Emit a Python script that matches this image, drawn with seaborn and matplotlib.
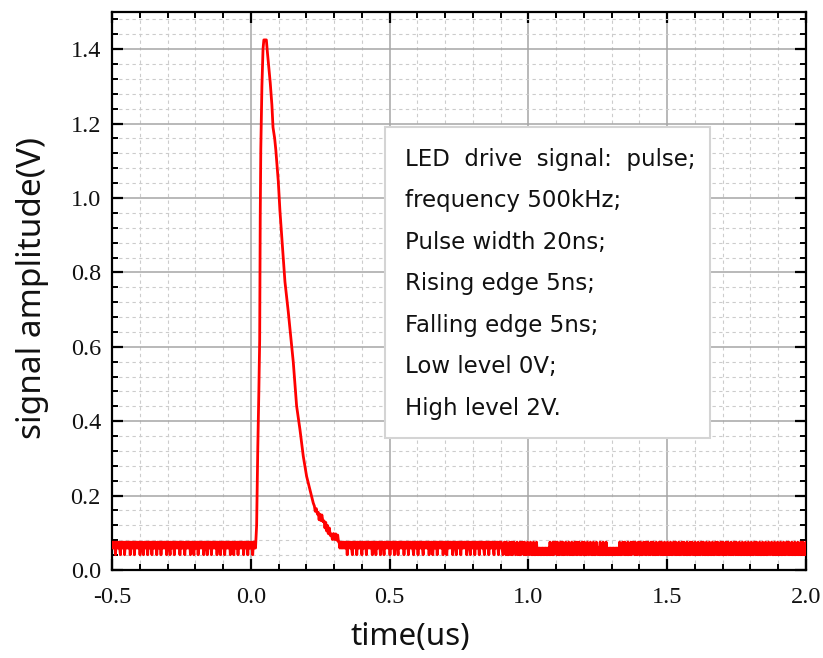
import numpy as np
import pandas as pd
import matplotlib
matplotlib.use("Agg")
import matplotlib.pyplot as plt
from matplotlib.ticker import MultipleLocator, FormatStrFormatter
from matplotlib.patches import Rectangle
import seaborn as sns

# ---------------- data ----------------
levels = {"0": 0.041, "1": 0.059, "2": 0.075}   # quantised baseline levels (V)

pre_pattern = (
    "2121202121210212120212121202121202121212021210212120212120212121021212021212120212102121202121"
    "2120212121021212120212102121202121212021210212120212121202121021212021212120212102121202121212"
    "021212021212102121")
post_pattern_a = (
    "2121212121202121210212120212121021212021212120212102121202121021212120212120212102121212021212"
    "0212121021212021212102121212021210212120212121202121021212120212102121202121212021210212120212"
    "12021212102121202121210212120212")
post_pattern_b = (
    "2101210201021020121012010201210201021012010201020101010101010101020102012102010210201021012010"
    "2010210201201021020102101201020102101020102010201010101010101010201021020102010201210201021020"
    "1021020120102102010201021020102010201020102102010201021020102010201201020102010210201020102010"
    "2010210201021020102012010201021020102010201020102010201021020102010201020102101201020102010201"
    "02010210201020102010201021020102")

pulse_t = [0.018, 0.021, 0.023, 0.025, 0.029, 0.032, 0.034, 0.036, 0.040, 0.044,
           0.047, 0.056, 0.060, 0.065, 0.070, 0.076, 0.080, 0.086, 0.090, 0.099,
           0.105, 0.111, 0.117, 0.123, 0.135, 0.141, 0.147, 0.153, 0.165, 0.177,
           0.189, 0.201, 0.213, 0.218, 0.222, 0.225, 0.229, 0.232, 0.236, 0.240,
           0.243, 0.246, 0.249, 0.252, 0.256, 0.260, 0.264, 0.267, 0.270, 0.273,
           0.276, 0.279, 0.283, 0.286, 0.290, 0.294, 0.298, 0.302, 0.306, 0.310,
           0.313, 0.316]
pulse_v = [0.075, 0.12, 0.22, 0.32, 0.48, 0.62, 0.95, 1.13, 1.30, 1.40,
           1.425, 1.425, 1.39, 1.35, 1.31, 1.25, 1.19, 1.16, 1.13, 1.045,
           0.965, 0.90, 0.838, 0.775, 0.694, 0.649, 0.604, 0.559, 0.441, 0.378,
           0.306, 0.252, 0.216, 0.200, 0.190, 0.180, 0.172, 0.158, 0.165, 0.150,
           0.155, 0.135, 0.150, 0.133, 0.148, 0.130, 0.132, 0.113, 0.128, 0.105,
           0.120, 0.098, 0.113, 0.093, 0.097, 0.082, 0.098, 0.082, 0.097, 0.080,
           0.094, 0.076]

pre_range = (-0.5, 0.017)
post_a_range = (0.318, 0.90)
post_b_range = (0.9025, 2.0)

x_ticks = [-0.5, 0.0, 0.5, 1.0, 1.5, 2.0]
y_ticks = [0.0, 0.2, 0.4, 0.6, 0.8, 1.0, 1.2, 1.4]

box_lines = ["LED  drive  signal:  pulse;", "frequency 500kHz;", "Pulse width 20ns;",
             "Rising edge 5ns;", "Falling edge 5ns;", "Low level 0V;", "High level 2V."]

# ---------------- build series ----------------
def seg(pattern, rng):
    t = np.linspace(rng[0], rng[1], len(pattern))
    v = [levels[c] for c in pattern]
    return list(t), v

t_pre, v_pre = seg(pre_pattern, pre_range)
t_pa, v_pa = seg(post_pattern_a, post_a_range)
t_pb, v_pb = seg(post_pattern_b, post_b_range)

df = pd.DataFrame({"time": t_pre + pulse_t + t_pa + t_pb,
                   "signal": v_pre + pulse_v + v_pa + v_pb})

# ---------------- plot ----------------
sns.set_style("white")
plt.rcParams["font.family"] = ["DejaVu Sans"]

fig = plt.figure(figsize=(8.23, 6.58), dpi=100)
ax = fig.add_axes([112/823, 88/658, 694/823, 558/658])

sns.lineplot(data=df, x="time", y="signal", ax=ax, color="#ff0000",
             linewidth=2.0, estimator=None, sort=False, zorder=4)

ax.set_xlim(-0.5, 2.0)
ax.set_ylim(0.0, 1.5)
ax.set_xticks(x_ticks)
ax.set_yticks(y_ticks)
ax.xaxis.set_minor_locator(MultipleLocator(0.1))
ax.yaxis.set_minor_locator(MultipleLocator(0.04))
ax.xaxis.set_major_formatter(FormatStrFormatter("%.1f"))
ax.yaxis.set_major_formatter(FormatStrFormatter("%.1f"))

ax.grid(which="major", color="#a6a6a6", linewidth=1.1, linestyle="-", zorder=0)
ax.grid(which="minor", color="#cccccc", linewidth=0.8, linestyle=(0, (3, 3)), zorder=0)
ax.set_axisbelow(True)

for sp in ax.spines.values():
    sp.set_visible(True)
    sp.set_linewidth(1.6)
    sp.set_color("black")

ax.tick_params(which="major", direction="in", length=8, width=1.6,
               top=True, right=True, bottom=True, left=True, color="black")
ax.tick_params(which="minor", direction="in", length=4, width=1.4,
               top=True, right=True, bottom=True, left=True, color="black")
ax.tick_params(axis="y", which="major", pad=8, labelcolor="#111111")
ax.tick_params(axis="x", which="major", pad=12, labelcolor="#111111")
for lab in ax.get_xticklabels() + ax.get_yticklabels():
    lab.set_family(["Liberation Serif", "DejaVu Serif"])
    lab.set_fontsize(17.5)

ax.set_xlabel("time(us)", fontsize=22.5, family=["Noto Sans", "DejaVu Sans"], color="#111111")
ax.set_ylabel("signal amplitude(V)", fontsize=24, family=["Noto Sans", "DejaVu Sans"],
              color="#111111")
ax.xaxis.label.set_va("center")
ax.yaxis.label.set_va("center")
ax.xaxis.set_label_coords((410-112)/694, (570-637)/558)
ax.yaxis.set_label_coords((33-112)/694, (570-288)/558)

# text box
bx0, bx1 = (385-112)/694, (710-112)/694
by0, by1 = (570-438)/558, (570-127)/558
ax.add_patch(Rectangle((bx0, by0), bx1-bx0, by1-by0, transform=ax.transAxes,
                       facecolor="white", edgecolor="#d4d4d4", linewidth=1.5, zorder=5))
for i, line in enumerate(box_lines):
    ybase = 570 - (157.7 + 8.0 + i*41.5)
    ax.text((405-112)/694, ybase/558, line, transform=ax.transAxes, fontsize=16.5,
            va="baseline", ha="left", color="#111111", zorder=6,
            family=["DejaVu Sans"])

fig.savefig("out.png", dpi=100)
